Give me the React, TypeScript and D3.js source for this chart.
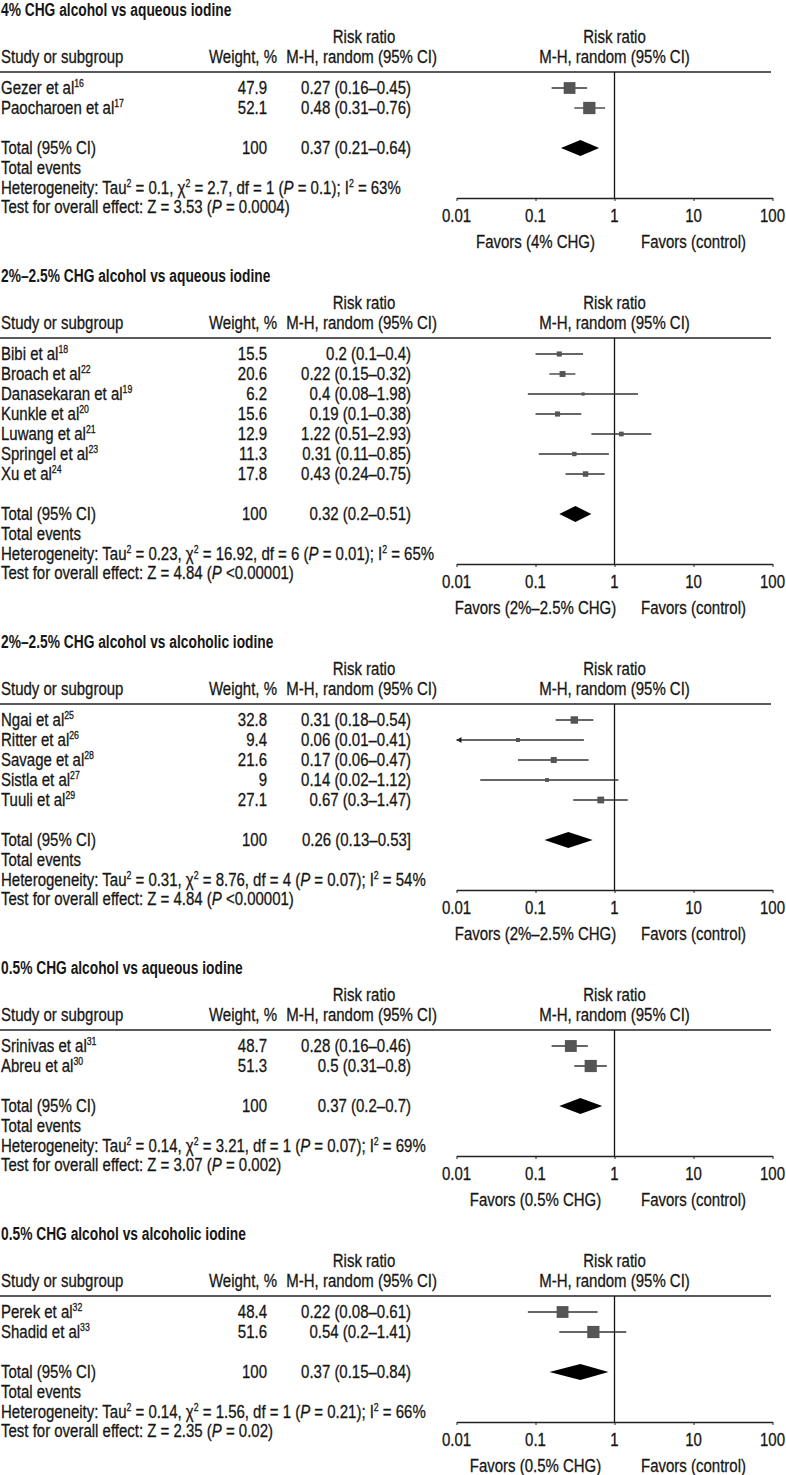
import { useEffect, useRef } from "react";
import * as d3 from "d3";

const sectionTitles = [
  "4% CHG alcohol vs aqueous iodine",
  "2%–2.5% CHG alcohol vs aqueous iodine",
  "2%–2.5% CHG alcohol vs alcoholic iodine",
  "0.5% CHG alcohol vs aqueous iodine",
  "0.5% CHG alcohol vs alcoholic iodine",
];
const favorsLabels = [
  "Favors (4% CHG)",
  "Favors (2%–2.5% CHG)",
  "Favors (2%–2.5% CHG)",
  "Favors (0.5% CHG)",
  "Favors (0.5% CHG)",
];

const studyNames = [
  ["Gezer et al", "Paocharoen et al"],
  ["Bibi et al", "Broach et al", "Danasekaran et al", "Kunkle et al", "Luwang et al", "Springel et al", "Xu et al"],
  ["Ngai et al", "Ritter et al", "Savage et al", "Sistla et al", "Tuuli et al"],
  ["Srinivas et al", "Abreu et al"],
  ["Perek et al", "Shadid et al"],
];
const studyRefs = [
  ["16", "17"],
  ["18", "22", "19", "20", "21", "23", "24"],
  ["25", "26", "28", "27", "29"],
  ["31", "30"],
  ["32", "33"],
];
const studyWeights = [
  [47.9, 52.1],
  [15.5, 20.6, 6.2, 15.6, 12.9, 11.3, 17.8],
  [32.8, 9.4, 21.6, 9, 27.1],
  [48.7, 51.3],
  [48.4, 51.6],
];
const studyRR = [
  [0.27, 0.48],
  [0.2, 0.22, 0.4, 0.19, 1.22, 0.31, 0.43],
  [0.31, 0.06, 0.17, 0.14, 0.67],
  [0.28, 0.5],
  [0.22, 0.54],
];
const studyLo = [
  [0.16, 0.31],
  [0.1, 0.15, 0.08, 0.1, 0.51, 0.11, 0.24],
  [0.18, 0.01, 0.06, 0.02, 0.3],
  [0.16, 0.31],
  [0.08, 0.2],
];
const studyHi = [
  [0.45, 0.76],
  [0.4, 0.32, 1.98, 0.38, 2.93, 0.85, 0.75],
  [0.54, 0.41, 0.47, 1.12, 1.47],
  [0.46, 0.8],
  [0.61, 1.41],
];

const totalRR = [0.37, 0.32, 0.26, 0.37, 0.37];
const totalLo = [0.21, 0.2, 0.13, 0.2, 0.15];
const totalHi = [0.64, 0.51, 0.53, 0.7, 0.84];
const totalBracket = [")", ")", "]", ")", ")"];

const tau2 = ["0.1", "0.23", "0.31", "0.14", "0.14"];
const chi2 = ["2.7", "16.92", "8.76", "3.21", "1.56"];
const dfs = ["1", "6", "4", "1", "1"];
const hetP = ["= 0.1", "= 0.01", "= 0.07", "= 0.07", "= 0.21"];
const i2 = ["63", "65", "54", "69", "66"];
const zVals = ["3.53", "4.84", "4.84", "3.07", "2.35"];
const zP = ["= 0.0004", "<0.00001", "<0.00001", "= 0.002", "= 0.02"];

const axisTicks = [0.01, 0.1, 1, 10, 100];

// marker scale differs between panels in the source
const markerScale = [1.7, 1.3, 1.3, 1.7, 1.7];

// no narrow font installed -> squeeze Liberation Sans horizontally
const FONT = '"Liberation Sans", Arial, sans-serif';
const FS = 18.5;
const SX = 0.81;
const SX_BOLD = 0.745;
const INK = "#161616";

type Seg = [string, "n" | "sup" | "it"];

function richText(g: any, x: number, y: number, segs: Seg[], anchor = "start", bold = false) {
  const t = g.append("text")
    .attr("transform", `translate(${x},${y}) scale(${bold ? SX_BOLD : SX},1)`)
    .attr("text-anchor", anchor)
    .attr("font-family", FONT)
    .attr("font-size", FS)
    .attr("font-weight", bold ? "bold" : "normal")
    .attr("fill", INK)
    .attr("stroke", INK)
    .attr("stroke-width", bold ? 0 : 0.3);
  let raised = false;
  segs.forEach(([str, kind]) => {
    const ts = t.append("tspan").text(str);
    if (kind === "sup") {
      ts.attr("font-size", FS * 0.58).attr("dy", raised ? 0 : -7);
      raised = true;
    } else {
      if (raised) ts.attr("dy", 7);
      raised = false;
      if (kind === "it") ts.attr("font-style", "italic");
    }
  });
  return t;
}

export default function App() {
  const ref = useRef<SVGSVGElement>(null);

  useEffect(() => {
    if (!ref.current) return;
    const svg = d3.select(ref.current);
    svg.selectAll("*").remove();

    const x = d3.scaleLog().domain([0.01, 100]).range([456.5, 772.5]);
    const x1 = x(1);

    let top = 10;
    sectionTitles.forEach((title, s) => {
      const n = studyNames[s].length;
      const g = svg.append("g").attr("transform", `translate(0,${top})`);
      const ruleY = 62;
      const rowY = (i: number) => 78 + 20 * i;
      const totalY = rowY(n - 1) + 40;
      const axisY = totalY + 50;

      // title
      richText(g, 1, 6, [[title, "n"]], "start", true);

      // headers
      richText(g, 364, 33, [["Risk ratio", "n"]], "middle");
      richText(g, x1, 33, [["Risk ratio", "n"]], "middle");
      richText(g, 1, 53, [["Study or subgroup", "n"]]);
      richText(g, 277, 53, [["Weight, %", "n"]], "end");
      richText(g, 437, 53, [["M-H, random (95% CI)", "n"]], "end");
      richText(g, x1, 53, [["M-H, random (95% CI)", "n"]], "middle");

      g.append("line")
        .attr("x1", 0).attr("x2", 771)
        .attr("y1", ruleY).attr("y2", ruleY)
        .attr("stroke", "#222").attr("stroke-width", 1.5);

      // vertical line of no effect
      g.append("line")
        .attr("x1", x1).attr("x2", x1)
        .attr("y1", ruleY).attr("y2", axisY)
        .attr("stroke", "#111").attr("stroke-width", 1.3);

      // study rows
      studyNames[s].forEach((name, i) => {
        const y = rowY(i);
        richText(g, 1, y + 6, [[name, "n"], [studyRefs[s][i], "sup"]]);
        richText(g, 267, y + 6, [[String(studyWeights[s][i]), "n"]], "end");
        richText(g, 411, y + 6,
          [[`${studyRR[s][i]} (${studyLo[s][i]}–${studyHi[s][i]})`, "n"]], "end");

        const lo = Math.max(studyLo[s][i], 0.01);
        g.append("line")
          .attr("x1", x(lo)).attr("x2", x(studyHi[s][i]))
          .attr("y1", y).attr("y2", y)
          .attr("stroke", "#333").attr("stroke-width", 1.3);
        if (studyLo[s][i] <= 0.01) {
          const ax = x(0.01);
          g.append("path")
            .attr("d", `M${ax},${y}L${ax + 5},${y - 3}L${ax + 5},${y + 3}Z`)
            .attr("fill", "#222");
        }
        const size = markerScale[s] * Math.sqrt(studyWeights[s][i]);
        g.append("rect")
          .attr("x", x(studyRR[s][i]) - size / 2)
          .attr("y", y - size / 2)
          .attr("width", size).attr("height", size)
          .attr("fill", "#555");
      });

      // total
      richText(g, 1, totalY + 6, [["Total (95% CI)", "n"]]);
      richText(g, 267, totalY + 6, [["100", "n"]], "end");
      richText(g, 411, totalY + 6,
        [[`${totalRR[s]} (${totalLo[s]}–${totalHi[s]}${totalBracket[s]}`, "n"]], "end");
      g.append("path")
        .attr("d", `M${x(totalLo[s])},${totalY}L${x(totalRR[s])},${totalY - 8}L${x(totalHi[s])},${totalY}L${x(totalRR[s])},${totalY + 8}Z`)
        .attr("fill", "#000");

      richText(g, 1, totalY + 26, [["Total events", "n"]]);
      richText(g, 1, totalY + 46, [
        ["Heterogeneity: Tau", "n"], ["2", "sup"],
        [` = ${tau2[s]}, χ`, "n"], ["2", "sup"],
        [` = ${chi2[s]}, df = ${dfs[s]} (`, "n"], ["P", "it"],
        [` ${hetP[s]}); I`, "n"], ["2", "sup"],
        [` = ${i2[s]}%`, "n"],
      ]);
      richText(g, 1, totalY + 65, [
        [`Test for overall effect: Z = ${zVals[s]} (`, "n"], ["P", "it"],
        [` ${zP[s]})`, "n"],
      ]);

      // axis
      const axis = g.append("g")
        .attr("transform", `translate(0,${axisY})`)
        .call(d3.axisBottom(x).tickValues(axisTicks).tickSize(3).tickSizeOuter(0)
          .tickFormat(() => ""));
      axis.select(".domain").attr("stroke", "#222").attr("stroke-width", 1.3);
      axis.selectAll(".tick line").attr("stroke", "#222");
      axisTicks.forEach((v) => {
        richText(g, x(v), axisY + 24, [[String(v), "n"]], "middle");
      });

      richText(g, x(0.1), axisY + 50, [[favorsLabels[s], "n"]], "middle");
      richText(g, x(10), axisY + 50, [["Favors (control)", "n"]], "middle");

      top += 226 + 20 * n;
    });
  }, []);

  return (
    <svg
      ref={ref}
      width={786}
      height={1475}
      style={{ position: "absolute", left: 0, top: 0, background: "#fff" }}
    />
  );
}
